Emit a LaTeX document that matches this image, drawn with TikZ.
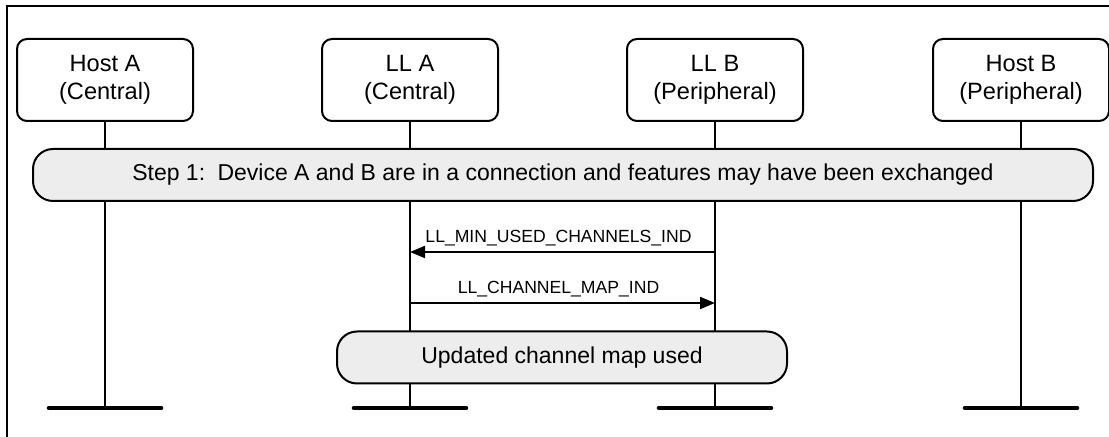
\documentclass[tikz,border=0pt]{standalone}
\usepackage{fontspec}
\setmainfont{Liberation Sans}
\usetikzlibrary{arrows.meta}
\definecolor{stepgray}{HTML}{EDEDED}

\begin{document}
\begin{tikzpicture}[x=0.5pt, y=-0.5pt,
    entity/.style={draw, line width=1pt, rounded corners=5pt, minimum width=88pt,
        minimum height=41pt, align=center, font=\fontsize{11.8}{14}\selectfont},
    stepbox/.style={draw, line width=1pt, fill=stepgray, rounded corners=10pt,
        minimum height=26pt, font=\fontsize{11.5}{14}\selectfont},
    msg/.style={line width=1pt, -{Triangle[length=7.5pt, width=6pt]}},
    msglabel/.style={font=\fontsize{8.8}{10}\selectfont, inner sep=1pt, above=1.5pt},
    lifeline/.style={line width=1pt},
    foot/.style={line width=2.3pt, line cap=round}]

    \useasboundingbox (0,0) rectangle (1109,437);

    % Frame (only left and top edges show)
    \draw[line width=1pt] (7,437) -- (7,6) -- (1109,6);

    % Participants
    \node[entity] (hostA) at (105,80) {Host A\\(Central)};
    \node[entity] (llA)   at (410,80) {LL A\\(Central)};
    \node[entity] (llB)   at (715,80) {LL B\\(Peripheral)};
    \node[entity] (hostB) at (1021,80) {Host B\\(Peripheral)};

    % Lifelines with feet
    \foreach \p/\x in {hostA/105, llA/410, llB/715, hostB/1021} {
        \coordinate (\p end) at (\x,408);
        \draw[lifeline] (\p.south) -- (\p end);
        \draw[foot] ([xshift=-28pt]\p end) -- ([xshift=28pt]\p end);
    }

    % Step 1
    \node[stepbox, minimum width=530pt] (step1) at (563,175)
        {Step 1:\, Device A and B are in a connection and features may have been exchanged};

    % Messages
    \coordinate (m1b) at (715,252);
    \coordinate (m1a) at (410,252);
    \draw[msg] (m1b) -- (m1a) node[midway, msglabel, xshift=-2pt] {LL\_MIN\_USED\_CHANNELS\_IND};

    \coordinate (m2a) at (410,303);
    \coordinate (m2b) at (715,303);
    \draw[msg] (m2a) -- (m2b) node[midway, msglabel, xshift=-2pt] {LL\_CHANNEL\_MAP\_IND};

    % Result
    \node[stepbox, minimum width=225pt] (used) at (562,357.5) {Updated channel map used};

\end{tikzpicture}
\end{document}
